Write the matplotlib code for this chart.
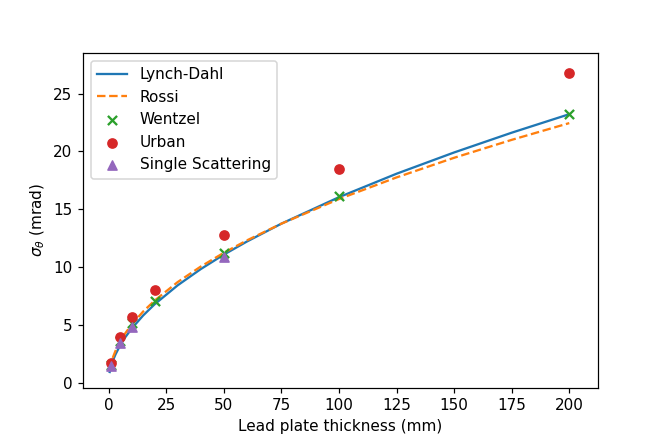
import matplotlib
matplotlib.use("Agg")
import matplotlib.pyplot as plt

# thickness grid for the model curves (mm)
curve_x = [0.5, 1, 2, 3, 5, 7, 10, 15, 20, 30, 40, 50, 60, 75, 100, 125, 150, 175, 200]
lynch_dahl = [0.92, 1.34, 1.96, 2.44, 3.22, 3.86, 4.67, 5.81, 6.78, 8.42, 9.82, 11.07,
              12.20, 13.75, 16.04, 18.07, 19.91, 21.62, 23.22]
rossi = [1.12, 1.59, 2.245, 2.75, 3.55, 4.20, 5.02, 6.15, 7.10, 8.70, 10.04, 11.23,
         12.30, 13.75, 15.88, 17.75, 19.45, 21.0, 22.45]

# simulation points
sim_x = [1, 5, 10, 20, 50, 100, 200]
wentzel = [1.5, 3.6, 5.15, 7.08, 11.2, 16.15, 23.2]
urban = [1.73, 3.97, 5.65, 8.0, 12.75, 18.45, 26.8]
single_x = [1, 5, 10, 50]
single_scattering = [1.44, 3.4, 4.84, 10.9]

DPI = 110
fig, ax = plt.subplots(figsize=(664 / DPI, 443 / DPI), dpi=DPI)
fig.subplots_adjust(left=0.125, right=0.9, bottom=0.125, top=0.88)

ax.plot(curve_x, lynch_dahl, color='C0', label='Lynch-Dahl')
ax.plot(curve_x, rossi, color='C1', linestyle='--', label='Rossi')
ax.scatter(sim_x, wentzel, color='C2', marker='x', s=36, label='Wentzel', zorder=3)
ax.scatter(sim_x, urban, color='C3', marker='o', s=36, label='Urban', zorder=3)
ax.scatter(single_x, single_scattering, color='C4', marker='^', s=36,
           label='Single Scattering', zorder=3)

ax.set_xlim(-11.1, 212.3)
ax.set_ylim(-0.43, 28.5)
ax.set_xticks(range(0, 201, 25))
ax.set_yticks(range(0, 26, 5))
ax.set_xlabel('Lead plate thickness (mm)')
ax.set_ylabel(r'$\sigma_\theta$ (mrad)')
ax.legend(loc='upper left')

fig.savefig('out.png', dpi=DPI)
